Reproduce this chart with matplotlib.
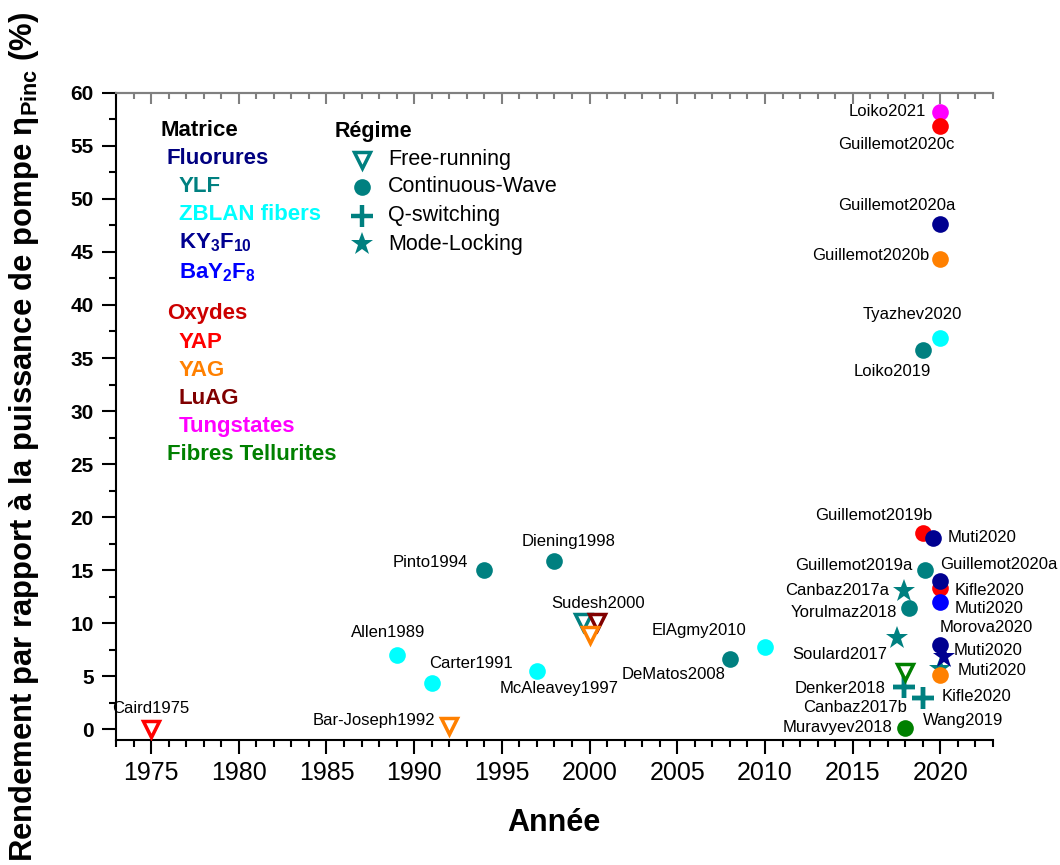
import matplotlib
matplotlib.use('Agg')
import matplotlib.pyplot as plt
from matplotlib.ticker import MultipleLocator

plt.rcParams['font.family'] = ['Liberation Sans', 'DejaVu Sans']
plt.rcParams['mathtext.fontset'] = 'custom'
plt.rcParams['mathtext.rm'] = 'Liberation Sans'
plt.rcParams['mathtext.it'] = 'Liberation Sans:italic'
plt.rcParams['mathtext.bf'] = 'Liberation Sans:bold'

### données ###
noms = ['Caird1975', 'Bar-Joseph1992', 'Allen1989', 'Carter1991', 'Pinto1994',
        'McAleavey1997', 'Diening1998', 'Sudesh2000', '', '',
        'DeMatos2008', 'ElAgmy2010', 'Soulard2017', 'Canbaz2017a', 'Denker2018',
        'Canbaz2017b', '', 'Yorulmaz2018', 'Muravyev2018', 'Loiko2019',
        'Guillemot2019b', 'Guillemot2019a', 'Kifle2020', 'Wang2019', 'Muti2020',
        'Tyazhev2020', 'Guillemot2020b', 'Guillemot2020a', 'Loiko2021', 'Guillemot2020c',
        'Kifle2020', 'Guillemot2020a', 'Muti2020', 'Morova2020', 'Muti2020',
        '', 'Muti2020']
annees = [1975, 1992, 1989, 1991, 1994,
          1997, 1998, 1999.6, 2000.4, 2000.0,
          2008, 2010, 2017.5, 2017.9, 2017.9,
          2017.9, 2018.0, 2018.2, 2018.0, 2019.0,
          2019.0, 2019.1, 2019.0, 2019.0, 2019.6,
          2020.0, 2020.0, 2020.0, 2020.0, 2020.0,
          2020.0, 2020.0, 2020.0, 2020.0, 2020.0,
          2020.0, 2020.2]
rendements = [0.0, 0.3, 7.0, 4.4, 15.0,
              5.5, 15.9, 10.1, 10.1, 8.9,
              6.6, 7.8, 8.6, 13.0, 4.0,
              4.0, 5.4, 11.4, 0.1, 35.8,
              18.5, 15.0, 3.0, 3.0, 18.0,
              36.9, 44.3, 47.6, 58.2, 56.9,
              13.3, 14.0, 12.0, 8.0, 5.7,
              5.1, 6.8]
matrices = ['YAP', 'YAG', 'ZBLAN', 'ZBLAN', 'YLF',
            'ZBLAN', 'YLF', 'YLF', 'LuAG', 'YAG',
            'YLF', 'ZBLAN', 'YLF', 'YLF', 'YLF',
            'YLF', 'Tellurite', 'YLF', 'Tellurite', 'YLF',
            'YAP', 'YLF', 'YLF', 'YLF', 'KY3F10',
            'ZBLAN', 'YAG', 'KY3F10', 'Tungstate', 'YAP',
            'YAP', 'KY3F10', 'BaY2F8', 'KY3F10', 'YLF',
            'YAG', 'KY3F10']
regimes = ['FR', 'FR', 'CW', 'CW', 'CW',
           'CW', 'CW', 'FR', 'FR', 'FR',
           'CW', 'CW', 'ML', 'ML', 'QS',
           'QS', 'FR', 'CW', 'CW', 'CW',
           'CW', 'CW', 'QS', 'QS', 'CW',
           'CW', 'CW', 'CW', 'CW', 'CW',
           'CW', 'CW', 'CW', 'CW', 'ML',
           'CW', 'ML']

# position des étiquettes (décalage en pixels, alignement)
decal = [(0, 21, 'center'), (-14, 6, 'right'), (-8, 23, 'center'), (39, 19, 'center'), (-16, 8, 'right'),
         (22, -17, 'center'), (14, 19, 'center'), (16, 19, 'center'), None, None,
         (-56, -15, 'center'), (-66, 16, 'center'), (-9, -16, 'right'), (-14, 1, 'right'), (-18, -2, 'right'),
         (3, -21, 'right'), None, (-12, -4, 'right'), (-13, 1, 'right'), (-31, -22, 'center'),
         (-49, 18, 'center'), (-12, 5, 'right'), (19, 1, 'left'), (0, -23, 'left'), (14, 1, 'left'),
         (-28, 23, 'center'), (-11, 4, 'right'), (-44, 19, 'center'), (-14, 0, 'right'), (-44, -19, 'center'),
         (14, -2, 'left'), (0, 16, 'left'), (14, -6, 'left'), (-1, 17, 'left'), (17, -2, 'left'),
         None, (10, 7, 'left')]

couleurs = {'YLF': '#008080', 'ZBLAN': '#00FFFF', 'KY3F10': '#000090', 'BaY2F8': '#0000FF',
            'YAP': '#FF0000', 'YAG': '#FF8000', 'LuAG': '#800000', 'Tungstate': '#FF00FF',
            'Tellurite': '#008000'}
marqueurs = {'FR': 'v', 'CW': 'o', 'QS': '+', 'ML': '*'}
tailles = {'FR': 12, 'CW': 12, 'QS': 16, 'ML': 17}

fig = plt.figure(figsize=(10.6, 8.65), dpi=100)
ax = fig.add_axes([0.1094, 0.1445, 0.8274, 0.7483])

for i in range(len(annees)):
    c = couleurs[matrices[i]]
    r = regimes[i]
    if r == 'FR':
        ax.plot(annees[i], rendements[i], 'v', ms=tailles[r], mfc='white', mec=c, mew=2.5, zorder=3)
    elif r == 'QS':
        ax.plot(annees[i], rendements[i], '+', ms=tailles[r], mec=c, mew=3.2, zorder=3)
    else:
        ax.plot(annees[i], rendements[i], marqueurs[r], ms=tailles[r], mfc=c, mec=c, mew=0, zorder=3)
    if noms[i] and decal[i]:
        dx, dy, ha = decal[i]
        ax.annotate(noms[i], (annees[i], rendements[i]), xytext=(dx, dy), textcoords='offset pixels',
                    ha=ha, va='center', fontsize=12, color='black', zorder=4)

ax.set_xlim(1973, 2023)
ax.set_ylim(-1, 60)
ax.xaxis.set_major_locator(MultipleLocator(5))
ax.xaxis.set_minor_locator(MultipleLocator(1))
ax.yaxis.set_major_locator(MultipleLocator(5))
ax.yaxis.set_minor_locator(MultipleLocator(2.5))
ax.set_xticks(range(1975, 2021, 5))
ax.tick_params(axis='x', which='major', direction='out', length=10, width=1.5, labelsize=18, pad=5)
ax.tick_params(axis='x', which='minor', direction='out', length=5, width=1.5)
ax.tick_params(axis='y', which='major', direction='out', length=10, width=1.5, labelsize=15, pad=6)
ax.tick_params(axis='y', which='minor', direction='out', length=5, width=1.5)
for lab in ax.get_yticklabels():
    lab.set_fontweight('bold')

ax.spines['right'].set_visible(False)
ax.spines['top'].set_color('#808080')
ax.spines['top'].set_linewidth(1.5)
ax.spines['left'].set_linewidth(1.5)
ax.spines['bottom'].set_linewidth(1.5)

top = ax.secondary_xaxis('top')
top.xaxis.set_major_locator(MultipleLocator(5))
top.xaxis.set_minor_locator(MultipleLocator(1))
top.tick_params(which='major', direction='in', length=8, width=1.5, color='#808080', labeltop=False)
top.tick_params(which='minor', direction='in', length=4, width=1.5, color='#808080')
top.spines['top'].set_color('#808080')
top.spines['top'].set_linewidth(1.5)

fig.text(554 / 1060, 1 - 823 / 865, 'Année', ha='center', va='center', fontsize=22, fontweight='bold')
fig.text(24 / 1060, 1 - 437 / 865,
         'Rendement par rapport à la puissance de pompe η' + r'$_{\mathbf{Pinc}}$' + ' (%)',
         rotation=90, ha='center', va='center', fontsize=22.3, fontweight='bold')

# légende "Matrice"
mat_txt = [('Matrice', 'black', 0), ('Fluorures', '#000080', 1), ('YLF', '#008080', 2),
           ('ZBLAN fibers', '#00FFFF', 2), (r'KY$_{\mathbf{3}}$F$_{\mathbf{10}}$', '#000090', 2),
           (r'BaY$_{\mathbf{2}}$F$_{\mathbf{8}}$', '#0000FF', 2), ('Oxydes', '#CC0000', 1),
           ('YAP', '#FF0000', 2), ('YAG', '#FF8000', 2), ('LuAG', '#800000', 2),
           ('Tungstates', '#FF00FF', 2), ('Fibres Tellurites', '#008000', 1)]
ys = [130, 158, 186, 214, 243, 273, 314, 342, 370, 398, 427, 455]
xs = {0: 161, 1: 167, 2: 179}
for (t, c, lvl), y in zip(mat_txt, ys):
    fig.text(xs[lvl] / 1060, 1 - y / 865, t, color=c, fontsize=16, fontweight='bold',
             ha='left', va='center')

# légende "Régime"
fig.text(335 / 1060, 1 - 132 / 865, 'Régime', fontsize=15.5, fontweight='bold', ha='left', va='center')
reg_txt = [('FR', 'Free-running'), ('CW', 'Continuous-Wave'), ('QS', 'Q-switching'), ('ML', 'Mode-Locking')]
reg_y = [160, 187, 216, 244]
for (r, t), y in zip(reg_txt, reg_y):
    yf = 1 - y / 865
    if r == 'FR':
        fig.lines.append(plt.Line2D([362 / 1060], [yf], marker='v', ms=12, mfc='white', mec='#008080',
                                    mew=2.5, transform=fig.transFigure, figure=fig))
    elif r == 'QS':
        fig.lines.append(plt.Line2D([362 / 1060], [yf], marker='+', ms=16, mec='#008080', mew=3.2,
                                    transform=fig.transFigure, figure=fig))
    else:
        fig.lines.append(plt.Line2D([362 / 1060], [yf], marker=marqueurs[r], ms=tailles[r], mfc='#008080',
                                    mec='#008080', mew=0, transform=fig.transFigure, figure=fig))
    fig.text(388 / 1060, yf, t, fontsize=15.5, ha='left', va='center')

plt.savefig('out.png', dpi=100)
